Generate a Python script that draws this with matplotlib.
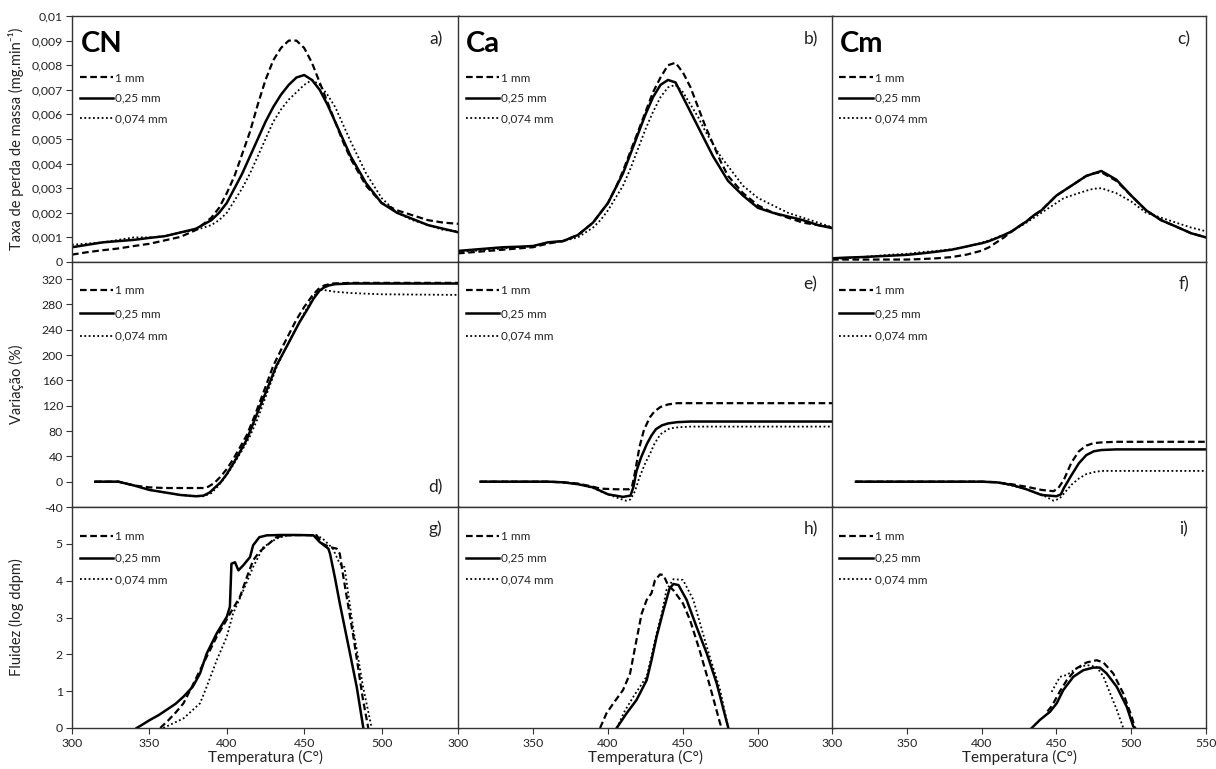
import matplotlib
matplotlib.use("Agg")
import matplotlib.pyplot as plt
from matplotlib.ticker import FuncFormatter

plt.rcParams['font.family'] = ['Lato', 'DejaVu Sans']

# ---------------- DATA ----------------
labels = ["1 mm", "0,25 mm", "0,074 mm"]
samples = ["CN", "Ca", "Cm"]

# Row 1: mass-loss rate (mg/min)
dtg_T = [300, 310, 320, 330, 340, 350, 360, 370, 380, 390, 395, 400, 405, 410, 415, 420,
         425, 430, 435, 440, 445, 450, 455, 460, 465, 470, 475, 480, 490, 500, 510, 520,
         530, 540, 550]
cn_dtg_1mm = [0.0003, 0.0004, 0.00048, 0.00055, 0.00065, 0.00074, 0.00088, 0.00102, 0.0013,
              0.0018, 0.0022, 0.0028, 0.0035, 0.0044, 0.0053, 0.0064, 0.0074, 0.0082, 0.0087,
              0.0090, 0.0090, 0.0087, 0.0081, 0.0073, 0.0065, 0.0057, 0.0049, 0.0042, 0.0031,
              0.0024, 0.0021, 0.0019, 0.0017, 0.0016, 0.00155]
cn_dtg_025 = [0.0006, 0.0007, 0.0008, 0.00085, 0.0009, 0.00098, 0.00105, 0.0012, 0.00135,
              0.0017, 0.0020, 0.0024, 0.0030, 0.0036, 0.0043, 0.0050, 0.0057, 0.0063, 0.0068,
              0.0072, 0.0075, 0.0076, 0.0074, 0.0070, 0.0064, 0.0057, 0.0050, 0.0043, 0.0032,
              0.0024, 0.0020, 0.00175, 0.0015, 0.00135, 0.0012]
cn_dtg_0074 = [0.0007, 0.00075, 0.0008, 0.0009, 0.0010, 0.0010, 0.00105, 0.0012, 0.0013,
               0.0015, 0.0017, 0.0020, 0.0025, 0.0030, 0.0036, 0.0043, 0.0050, 0.0057, 0.0062,
               0.0066, 0.0069, 0.0072, 0.0074, 0.0072, 0.0068, 0.0063, 0.0056, 0.0049, 0.0036,
               0.0026, 0.0020, 0.0017, 0.0015, 0.0013, 0.00125]
ca_dtg_1mm = [0.00035, 0.0004, 0.00045, 0.0005, 0.00055, 0.0006, 0.00075, 0.00085, 0.0011,
              0.0016, 0.0020, 0.0024, 0.0030, 0.0037, 0.0045, 0.0053, 0.0061, 0.0069, 0.0075,
              0.0080, 0.0081, 0.0077, 0.0071, 0.0063, 0.0055, 0.0048, 0.0041, 0.0035, 0.0028,
              0.0023, 0.0020, 0.0018, 0.0016, 0.0015, 0.0014]
ca_dtg_025 = [0.00045, 0.0005, 0.00055, 0.0006, 0.00062, 0.00065, 0.0008, 0.00085, 0.0011,
              0.0016, 0.0020, 0.0024, 0.0030, 0.0036, 0.0044, 0.0052, 0.0060, 0.0067, 0.0072,
              0.0074, 0.0073, 0.0067, 0.0061, 0.0055, 0.0049, 0.0043, 0.0038, 0.0033, 0.0027,
              0.0022, 0.0020, 0.00185, 0.0017, 0.0015, 0.00137]
ca_dtg_0074 = [0.0004, 0.00045, 0.0005, 0.00055, 0.0006, 0.00065, 0.0008, 0.00085, 0.0010,
               0.0014, 0.0017, 0.0021, 0.0026, 0.0031, 0.0038, 0.0046, 0.0054, 0.0061, 0.0067,
               0.0071, 0.0072, 0.0069, 0.0064, 0.0059, 0.0053, 0.0048, 0.0043, 0.0039, 0.0031,
               0.0026, 0.0023, 0.0020, 0.0018, 0.0016, 0.0014]
cm_dtg_1mm = [0.0001, 0.0001, 0.0001, 0.0001, 0.0001, 0.0001, 0.00012, 0.00015, 0.0002,
              0.0003, 0.00038, 0.00046, 0.0006, 0.0008, 0.0010, 0.00124, 0.00145, 0.00165,
              0.0019, 0.0021, 0.0024, 0.0027, 0.0029, 0.0031, 0.0033, 0.0035, 0.0036, 0.00365,
              0.0033, 0.0027, 0.0021, 0.0017, 0.00144, 0.00117, 0.0010]
cm_dtg_025 = [0.00015, 0.00018, 0.0002, 0.00023, 0.00026, 0.00029, 0.00035, 0.00042, 0.0005,
              0.00063, 0.0007, 0.00076, 0.00085, 0.00097, 0.0011, 0.00124, 0.00145, 0.00165,
              0.0019, 0.0021, 0.0024, 0.0027, 0.0029, 0.0031, 0.0033, 0.0035, 0.0036, 0.0037,
              0.00335, 0.0027, 0.0021, 0.0017, 0.00144, 0.00117, 0.0010]
cm_dtg_0074 = [0.00012, 0.00015, 0.0002, 0.00025, 0.0003, 0.00033, 0.0004, 0.00045, 0.00052,
               0.00063, 0.0007, 0.00078, 0.00088, 0.0010, 0.0011, 0.00125, 0.00142, 0.0016,
               0.0018, 0.0020, 0.0022, 0.0024, 0.0026, 0.0027, 0.0028, 0.0029, 0.00298, 0.0030,
               0.0028, 0.00246, 0.0020, 0.0018, 0.0016, 0.0014, 0.00125]

# Row 2: dilatation (%)
cn_dil_1mm_T = [315, 330, 340, 350, 360, 370, 380, 385, 388, 392, 396, 400, 404, 408, 413, 418,
                424, 430, 437, 445, 450, 455, 459, 463, 468, 480, 550]
cn_dil_1mm = [0, 0, -6, -9, -10, -10, -10, -10, -8, -2, 8, 20, 35, 52, 74, 104, 143, 183, 218,
              256, 276, 293, 304, 310, 313, 314, 314]
cn_dil_025_T = [315, 330, 340, 350, 360, 370, 380, 385, 389, 392, 396, 400, 404, 408, 413, 419,
                426, 432, 439, 447, 452, 456, 460, 463, 466, 470, 480, 500, 550]
cn_dil_025 = [0, 0, -6, -13, -17, -21, -23, -22, -17, -10, -1, 12, 28, 45, 67, 104, 146, 183,
              215, 252, 272, 289, 302, 307, 310, 312, 313, 313, 313]
cn_dil_0074_T = [315, 330, 340, 350, 360, 370, 380, 385, 390, 394, 398, 402, 406, 410, 415, 420,
                 426, 432, 439, 447, 452, 456, 459, 462, 470, 480, 500, 550]
cn_dil_0074 = [0, 0, -6, -13, -17, -21, -23, -23, -18, -8, 4, 18, 34, 50, 72, 100, 140, 180,
               215, 253, 275, 292, 302, 303, 300, 298, 296, 295]

ca_dil_1mm_T = [315, 340, 360, 370, 380, 390, 395, 405, 414, 416, 418, 421, 424, 428, 431, 435,
                440, 446, 455, 550]
ca_dil_1mm = [0, 0, 0, -1, -3, -8, -11, -12, -12, -8, 15, 55, 82, 102, 111, 118, 122, 124, 124, 124]
ca_dil_025_T = [315, 340, 360, 370, 380, 390, 400, 410, 415, 417, 419, 422, 426, 429, 432, 436,
                440, 446, 455, 550]
ca_dil_025 = [0, 0, 0, -1, -4, -9, -20, -24, -22, -8, 17, 38, 60, 73, 83, 89, 92, 94, 95, 95]
ca_dil_0074_T = [315, 340, 360, 370, 380, 390, 400, 408, 412, 415, 418, 421, 425, 428, 431, 435,
                 441, 447, 455, 550]
ca_dil_0074 = [0, 0, 0, -1, -4, -10, -20, -27, -30, -28, -15, 7, 30, 44, 60, 75, 84, 86, 87, 87]

cm_dil_1mm_T = [316, 350, 400, 410, 420, 430, 440, 448, 451, 455, 460, 465, 470, 475, 480, 490, 550]
cm_dil_1mm = [0, 0, 0, -1, -4, -8, -13, -15, -11, 3, 30, 48, 57, 61, 62, 63, 63]
cm_dil_025_T = [316, 350, 400, 410, 420, 430, 440, 450, 453, 455, 458, 460, 465, 470, 475, 480,
                490, 550]
cm_dil_025 = [0, 0, 0, -1, -5, -12, -21, -23, -20, -10, 2, 10, 29, 42, 48, 50, 51, 51]
cm_dil_0074_T = [316, 350, 400, 410, 420, 430, 440, 448, 452, 456, 460, 465, 470, 475, 480, 490, 550]
cm_dil_0074 = [0, 0, 0, -1, -6, -12, -20, -30, -27, -16, -5, 5, 12, 15, 17, 17, 17]

# Row 3: fluidity (log ddpm)
cn_flu_1mm_T = [357, 362, 367, 372, 377, 382.7, 388, 393.5, 398, 402, 408.5, 413, 417, 421, 426,
                432, 438.7, 450, 458, 462, 466.7, 471, 473, 475.3, 481.8, 488, 491.4]
cn_flu_1mm = [0, 0.2, 0.42, 0.67, 1.08, 1.57, 2.02, 2.48, 2.8, 3.1, 3.56, 4.1, 4.55, 4.78, 4.96,
              5.18, 5.23, 5.24, 5.23, 5.0, 4.91, 4.87, 4.73, 4.1, 2.48, 0.76, 0]
cn_flu_025_T = [341.8, 345, 350.4, 356, 361, 367, 372, 378, 382.7, 387, 393.5, 400, 402, 403,
                405.3, 407.5, 410.7, 415, 417, 421, 425.8, 435, 445, 456, 460, 465.6, 466.7,
                470, 473, 479.6, 484, 488.2]
cn_flu_025 = [0, 0.08, 0.22, 0.35, 0.49, 0.66, 0.85, 1.12, 1.48, 2.02, 2.57, 3.02, 3.29, 4.46,
              4.5, 4.28, 4.42, 4.64, 4.96, 5.18, 5.23, 5.24, 5.24, 5.23, 5.05, 4.87, 4.73, 4.05,
              3.38, 2.02, 1.1, 0]
cn_flu_0074_T = [359, 365, 372, 377, 382.7, 387, 393.5, 400, 404, 410.7, 417, 423.6, 432, 438.7,
                 450, 458, 462, 468.5, 471, 473, 476, 481.8, 488, 493.6]
cn_flu_0074 = [0, 0.12, 0.26, 0.45, 0.67, 1.12, 1.84, 2.48, 3.1, 3.74, 4.37, 4.91, 5.14, 5.23,
               5.24, 5.23, 5.14, 4.87, 4.64, 4.46, 4.37, 2.66, 1.12, 0]

ca_flu_1mm_T = [394.7, 399, 403.6, 410, 414.7, 419, 422.4, 425.8, 429, 431.3, 434.7, 437, 440,
                443.6, 450, 454.7, 461, 468, 474.7, 475.8]
ca_flu_1mm = [0, 0.4, 0.67, 1.03, 1.48, 2.39, 3.1, 3.48, 3.66, 4.01, 4.17, 4.15, 3.88, 3.74,
              3.38, 2.93, 2.12, 1.13, 0.13, 0]
ca_flu_025_T = [405.8, 412.4, 419, 425.8, 429, 432.4, 437, 441, 443.6, 447, 452.4, 459, 465.8,
                472.4, 480.2]
ca_flu_025 = [0, 0.4, 0.76, 1.3, 1.84, 2.48, 3.2, 3.78, 3.91, 3.88, 3.48, 2.75, 2.03, 1.22, 0]
ca_flu_0074_T = [406, 411, 416.9, 421, 425.8, 429, 432.4, 435.8, 439, 443.6, 450, 456.9, 465.8,
                 474.7, 480.2]
ca_flu_0074 = [0, 0.45, 0.85, 1.1, 1.4, 1.95, 2.57, 3.1, 3.75, 4.04, 4.02, 3.48, 2.21, 1.04, 0]

cm_flu_1mm_T = [444, 447, 452.4, 457, 463.5, 470.2, 476.9, 481.4, 488, 494.7, 500.3, 502.5]
cm_flu_1mm = [0.45, 0.6, 1.0, 1.3, 1.62, 1.78, 1.84, 1.78, 1.48, 0.94, 0.31, 0]
cm_flu_025_T = [433.5, 439, 445.7, 450.2, 454.6, 461.3, 468, 474.7, 479.1, 483.6, 490.3, 497,
                501.4, 502.5]
cm_flu_025 = [0, 0.22, 0.44, 0.67, 1.03, 1.39, 1.57, 1.64, 1.64, 1.48, 1.12, 0.58, 0.04, 0]
cm_flu_0074_T = [446.8, 452.4, 456.9, 463.5, 470.2, 476.9, 481.4, 485.8, 490.3, 494.7]
cm_flu_0074 = [0.98, 1.39, 1.44, 1.62, 1.71, 1.66, 1.4, 0.95, 0.5, 0]

panel_letters = [["a)", "b)", "c)"], ["d)", "e)", "f)"], ["g)", "h)", "i)"]]
ylabels = ["Taxa de perda de massa (mg.min\u207b\u00b9)", "Varia\u00e7\u00e3o (%)", "Fluidez (log ddpm)"]
xlabel = "Temperatura (C\u00b0)"

dtg_ticks = [0, 0.001, 0.002, 0.003, 0.004, 0.005, 0.006, 0.007, 0.008, 0.009, 0.01]
dil_ticks = [-40, 0, 40, 80, 120, 160, 200, 240, 280, 320]
flu_ticks = [0, 1, 2, 3, 4, 5]
x_ticks_main = [300, 350, 400, 450, 500]
x_ticks_last = [300, 350, 400, 450, 500, 550]

# ---------------- FIGURE ----------------
W, H = 1216, 769
fig = plt.figure(figsize=(W / 100, H / 100), dpi=100)

col_px = [(72, 459), (458, 833), (832, 1206)]
row_px = [(16, 262), (262, 507), (507, 728)]

styles = [dict(ls=(0, (3, 1.6)), lw=1.6, color='black'),
          dict(ls='-', lw=1.8, color='black'),
          dict(ls=(0, (1, 1.4)), lw=1.3, color='black')]

series = [
    [[(dtg_T, cn_dtg_1mm), (dtg_T, cn_dtg_025), (dtg_T, cn_dtg_0074)],
     [(dtg_T, ca_dtg_1mm), (dtg_T, ca_dtg_025), (dtg_T, ca_dtg_0074)],
     [(dtg_T, cm_dtg_1mm), (dtg_T, cm_dtg_025), (dtg_T, cm_dtg_0074)]],
    [[(cn_dil_1mm_T, cn_dil_1mm), (cn_dil_025_T, cn_dil_025), (cn_dil_0074_T, cn_dil_0074)],
     [(ca_dil_1mm_T, ca_dil_1mm), (ca_dil_025_T, ca_dil_025), (ca_dil_0074_T, ca_dil_0074)],
     [(cm_dil_1mm_T, cm_dil_1mm), (cm_dil_025_T, cm_dil_025), (cm_dil_0074_T, cm_dil_0074)]],
    [[(cn_flu_1mm_T, cn_flu_1mm), (cn_flu_025_T, cn_flu_025), (cn_flu_0074_T, cn_flu_0074)],
     [(ca_flu_1mm_T, ca_flu_1mm), (ca_flu_025_T, ca_flu_025), (ca_flu_0074_T, ca_flu_0074)],
     [(cm_flu_1mm_T, cm_flu_1mm), (cm_flu_025_T, cm_flu_025), (cm_flu_0074_T, cm_flu_0074)]],
]

ylims = [(0, 0.01), (-40, 347), (0, 6)]
yticks = [dtg_ticks, dil_ticks, flu_ticks]


def comma_fmt(v, pos):
    if abs(v) < 1e-12:
        return "0"
    if abs(v) < 1:
        s = f"{v:.3f}".rstrip('0').rstrip('.')
    else:
        s = f"{v:g}"
    return s.replace('.', ',')


leg_y = [0.77, 0.905, 0.891]
leg_spacing = [0.78, 1.0, 0.9]
letter_pos = [[(0.94, 0.905)] * 3,
              [(0.94, 0.08), (0.94, 0.91), (0.94, 0.91)],
              [(0.94, 0.9)] * 3]

for r in range(3):
    for c in range(3):
        x0, x1 = col_px[c]
        y0, y1 = row_px[r]
        ax = fig.add_axes([x0 / W, 1 - y1 / H, (x1 - x0) / W, (y1 - y0) / H])
        for k, (tx, vy) in enumerate(series[r][c]):
            ax.plot(tx, vy, label=labels[k], **styles[k])
        ax.set_xlim(300, 550)
        ax.set_ylim(*ylims[r])
        for sp in ax.spines.values():
            sp.set_linewidth(1.0)
            sp.set_color('#333333')
        if c == 0:
            ax.set_yticks(yticks[r])
            ax.yaxis.set_major_formatter(FuncFormatter(comma_fmt))
            ax.tick_params(axis='y', direction='out', length=4.5, width=0.8, pad=2,
                           labelsize=8.8, colors='#333333', labelcolor='#222222')
            ax.set_ylabel(ylabels[r], fontsize=10.5, color='#222222')
            ax.yaxis.set_label_coords(-0.125, 0.5)
        else:
            ax.set_yticks([])
        if r == 2:
            ax.set_xticks(x_ticks_last if c == 2 else x_ticks_main)
            ax.tick_params(axis='x', direction='out', length=4.5, width=0.8, pad=3,
                           labelsize=8.8, colors='#333333', labelcolor='#222222')
            ax.set_xlabel(xlabel, fontsize=11, color='#222222')
            ax.xaxis.set_label_coords(0.5, -0.1)
        else:
            ax.set_xticks([])
        leg = ax.legend(loc='upper left', bbox_to_anchor=(0.02, leg_y[r]), frameon=False,
                        fontsize=8.5, handlelength=2.8, handletextpad=0.2,
                        labelspacing=leg_spacing[r], borderaxespad=0, borderpad=0)
        for t in leg.get_texts():
            t.set_color('#222222')
        lx, ly = letter_pos[r][c]
        ax.text(lx, ly, panel_letters[r][c], transform=ax.transAxes, fontsize=12.5,
                ha='center', va='center', color='#222222')
        if r == 0:
            ax.text(0.022, 0.885, samples[c], transform=ax.transAxes, fontsize=21,
                    fontweight='bold', ha='left', va='center', color='black')

fig.savefig("out.png", dpi=100)
